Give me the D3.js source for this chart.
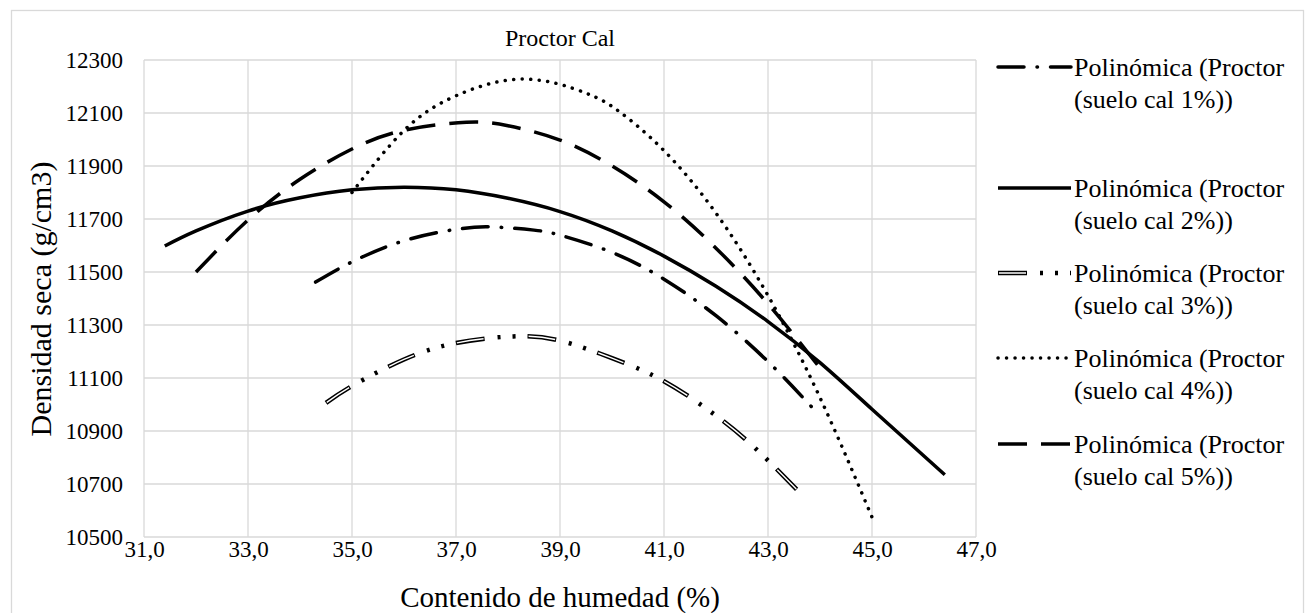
<!DOCTYPE html>
<html>
<head>
<meta charset="utf-8">
<script src="https://cdn.jsdelivr.net/npm/d3@7"></script>
<style>
    body { margin: 0; background: #fff; }
    svg text { font-family: "Liberation Serif", "Times New Roman", "DejaVu Serif", serif !important; fill: #000; }
</style>
</head>
<body>
<svg id="chart" width="1309" height="613"></svg>
<script>
// valores (humedad %, densidad seca)
const cal1Humedad = [34.3, 35.0, 36.0, 37.0, 37.7, 38.5, 39.0, 40.0, 41.0, 42.0, 43.0, 43.9];
const cal1Densidad = [11462, 11538, 11618, 11661, 11670, 11658, 11639, 11574, 11473, 11335, 11162, 10978];
const cal2Humedad = [31.4, 32.0, 33.0, 34.0, 35.0, 36.0, 37.0, 38.0, 39.0, 40.0, 41.0, 42.0, 43.0, 44.0, 45.0, 46.4];
const cal2Densidad = [11598, 11655, 11730, 11780, 11810, 11820, 11810, 11778, 11728, 11655, 11560, 11446, 11313, 11158, 10982, 10735];
const cal3Humedad = [34.5, 35.0, 36.0, 37.0, 38.1, 39.0, 40.0, 41.0, 42.0, 42.75, 43.55];
const cal3Densidad = [11006, 11070, 11170, 11232, 11257, 11241, 11175, 11088, 10958, 10836, 10680];
const cal4Humedad = [35.0, 36.0, 37.0, 38.3, 39.5, 40.15, 41.0, 42.0, 43.0, 44.0, 45.0];
const cal4Densidad = [11800, 12034, 12165, 12228, 12175, 12104, 11958, 11722, 11411, 11026, 10575];
const cal5Humedad = [32.0, 33.0, 34.0, 35.0, 36.0, 37.2, 38.0, 39.0, 40.0, 41.0, 42.0, 43.0, 43.95];
const cal5Densidad = [11500, 11696, 11850, 11964, 12035, 12065, 12052, 11998, 11900, 11765, 11590, 11380, 11150];

const xTicks = [31, 33, 35, 37, 39, 41, 43, 45, 47];
const yTicks = [10500, 10700, 10900, 11100, 11300, 11500, 11700, 11900, 12100, 12300];
const leyendaLinea1 = 'Polinómica (Proctor';
const leyendaLinea2 = ['(suelo cal 1%))', '(suelo cal 2%))', '(suelo cal 3%))', '(suelo cal 4%))', '(suelo cal 5%))'];

const series = [
    { x: cal1Humedad, y: cal1Densidad, tipo: 'dashdot' },
    { x: cal2Humedad, y: cal2Densidad, tipo: 'solid' },
    { x: cal3Humedad, y: cal3Densidad, tipo: 'double' },
    { x: cal4Humedad, y: cal4Densidad, tipo: 'dot' },
    { x: cal5Humedad, y: cal5Densidad, tipo: 'dash' }
];

const fuente = '"Liberation Serif", "Times New Roman", serif';
const svg = d3.select('#chart');
const gris = '#d9d9d9';

// borde exterior
svg.append('rect')
    .attr('x', 11.5).attr('y', 10.5)
    .attr('width', 1292).attr('height', 620)
    .attr('fill', 'none').attr('stroke', gris).attr('stroke-width', 1.3);

const x = d3.scaleLinear().domain([31, 47]).range([144, 976]);
const y = d3.scaleLinear().domain([10500, 12300]).range([537, 60]);
const fmt = (d) => d3.format('.1f')(d).replace('.', ',');

// rejilla
const grid = svg.append('g');
grid.selectAll('line.v').data(xTicks).enter().append('line')
    .attr('x1', (d) => x(d)).attr('x2', (d) => x(d))
    .attr('y1', y(12300)).attr('y2', y(10500))
    .attr('stroke', gris).attr('stroke-width', 1.3);
grid.selectAll('line.h').data(yTicks).enter().append('line')
    .attr('x1', x(31)).attr('x2', x(47))
    .attr('y1', (d) => y(d)).attr('y2', (d) => y(d))
    .attr('stroke', gris).attr('stroke-width', 1.3);

// ejes (solo etiquetas)
const xAxis = svg.append('g')
    .attr('transform', 'translate(0,' + y(10500) + ')')
    .call(d3.axisBottom(x).tickValues(xTicks).tickFormat(fmt).tickSize(0).tickPadding(18));
const yAxis = svg.append('g')
    .attr('transform', 'translate(' + (x(31) - 21) + ',0)')
    .call(d3.axisLeft(y).tickValues(yTicks).tickFormat(d3.format('d')).tickSize(0).tickPadding(0));
[xAxis, yAxis].forEach((a) => {
    a.select('.domain').remove();
    a.attr('font-family', fuente).attr('font-size', 23);
    a.selectAll('text').attr('fill', '#000');
});
xAxis.selectAll('text').attr('dy', '0.1em');

// títulos
svg.append('text').attr('x', 560).attr('y', 38).attr('dy', '0.35em')
    .attr('text-anchor', 'middle').attr('font-size', 24).text('Proctor Cal');
svg.append('text').attr('x', 560).attr('y', 597).attr('dy', '0.35em')
    .attr('text-anchor', 'middle').attr('font-size', 29).text('Contenido de humedad (%)');
svg.append('text').attr('transform', 'translate(40,299) rotate(-90)').attr('dy', '0.35em')
    .attr('text-anchor', 'middle').attr('font-size', 30).text('Densidad seca (g/cm3)');

// estilo de cada línea
const aplicarEstilo = (sel, tipo) => {
    sel.attr('fill', 'none').attr('stroke', '#000');
    if (tipo === 'solid') {
        sel.attr('stroke-width', 3.5);
    } else if (tipo === 'dashdot') {
        sel.attr('stroke-width', 3.5).attr('stroke-linecap', 'round').attr('stroke-dasharray', '26,13,0.5,13');
    } else if (tipo === 'dot') {
        sel.attr('stroke-width', 3.5).attr('stroke-linecap', 'round').attr('stroke-dasharray', '0.1,8.4');
    } else if (tipo === 'dash') {
        sel.attr('stroke-width', 3.5).attr('stroke-dasharray', '29,14');
    } else if (tipo === 'double') {
        sel.attr('stroke-width', 4.5).attr('stroke-dasharray', '29,13,3,12,3,12');
    }
};
const aplicarInterior = (sel) => {
    sel.attr('fill', 'none').attr('stroke', '#fff').attr('stroke-width', 1.4)
        .attr('stroke-dasharray', '0,1,27,44');
};

const line = d3.line()
    .x((d) => x(d[0]))
    .y((d) => y(d[1]))
    .curve(d3.curveNatural);

const curvas = svg.append('g');
series.forEach((s) => {
    const pts = s.x.map((v, i) => [v, s.y[i]]);
    curvas.append('path').attr('d', line(pts)).call(aplicarEstilo, s.tipo);
    if (s.tipo === 'double') {
        curvas.append('path').attr('d', line(pts)).call(aplicarInterior);
    }
});

// leyenda
const leyendaY = [67, 188, 273, 358, 444];
const leyenda = svg.append('g');
series.forEach((s, i) => {
    const ly = leyendaY[i];
    leyenda.append('line')
        .attr('x1', 998).attr('x2', 1071).attr('y1', ly).attr('y2', ly)
        .call(aplicarEstilo, s.tipo);
    if (s.tipo === 'double') {
        leyenda.append('line')
            .attr('x1', 998).attr('x2', 1071).attr('y1', ly).attr('y2', ly)
            .call(aplicarInterior);
    }
    leyenda.append('text').attr('x', 1074).attr('y', ly).attr('dy', '0.35em')
        .attr('font-size', 26).text(leyendaLinea1);
    leyenda.append('text').attr('x', 1074).attr('y', ly + 32).attr('dy', '0.35em')
        .attr('font-size', 26).text(leyendaLinea2[i]);
});

svg.selectAll('text').style('font-family', fuente);
</script>
</body>
</html>
